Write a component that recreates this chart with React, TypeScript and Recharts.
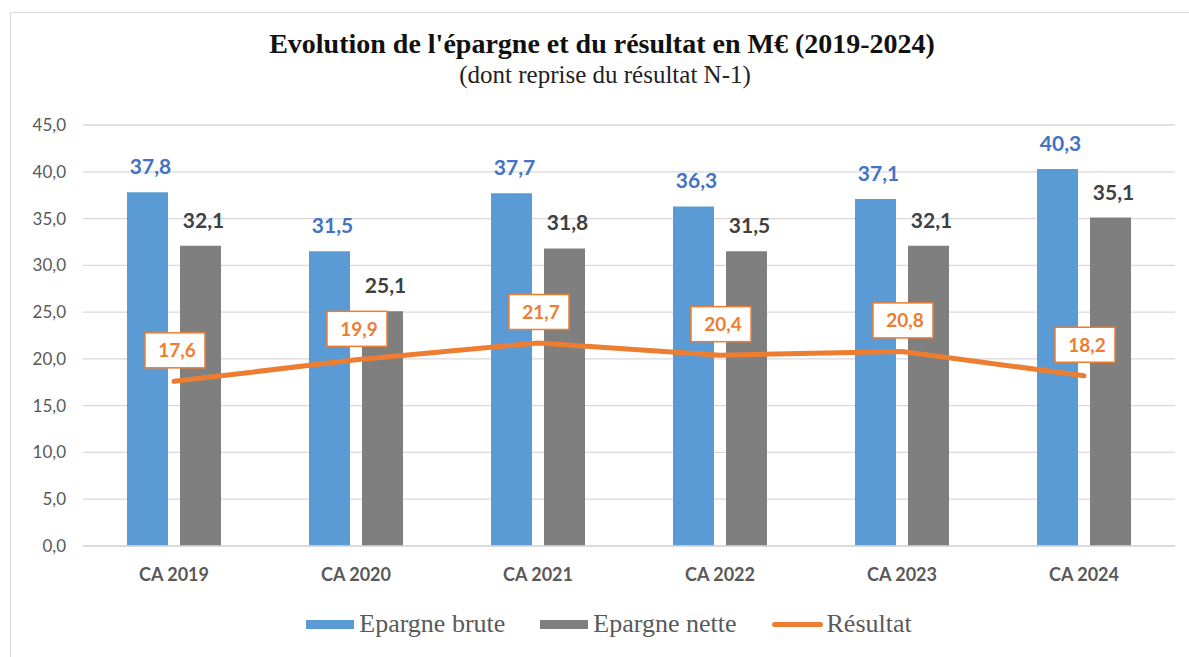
import React from 'react';
import { ComposedChart, Bar, Line, XAxis, YAxis, CartesianGrid, LabelList, Legend } from 'recharts';

const categories = ['CA 2019', 'CA 2020', 'CA 2021', 'CA 2022', 'CA 2023', 'CA 2024'];
const epargneBrute = [37.8, 31.5, 37.7, 36.3, 37.1, 40.3];
const epargneNette = [32.1, 25.1, 31.8, 31.5, 32.1, 35.1];
const resultat = [17.6, 19.9, 21.7, 20.4, 20.8, 18.2];
const yTicks = [0, 5, 10, 15, 20, 25, 30, 35, 40, 45];

const data = categories.map((c, i) => ({
  name: c,
  brute: epargneBrute[i],
  nette: epargneNette[i],
  resultat: resultat[i],
}));

const fmt = (v: number) => Number(v).toFixed(1).replace('.', ',');

const SANS = 'Lato, "Noto Sans", sans-serif';
const SERIF = '"Liberation Serif", "Times New Roman", serif';

const BarLabel = (color: string) => (props: any) => {
  const { x, y, width, value } = props;
  return (
    <text x={x + width / 2 + 3} y={y - 18} textAnchor="middle" fill={color}
      style={{ fontFamily: SANS, fontWeight: 700, fontSize: 21 }}>
      {fmt(value)}
    </text>
  );
};

const LineLabel = (props: any) => {
  const { x, y, value } = props;
  const cx = x + 1;
  const cy = y - 31;
  return (
    <g>
      <rect x={cx - 30} y={cy - 17.5} width={60} height={35} fill="#ffffff" stroke="#ED7D31" strokeWidth={1.5} />
      <text x={cx + 2} y={cy + 7} textAnchor="middle" fill="#ED7D31"
        style={{ fontFamily: SANS, fontWeight: 700, fontSize: 19 }}>
        {fmt(value)}
      </text>
    </g>
  );
};

const LegendContent = () => {
  const items = [
    { label: 'Epargne brute', type: 'rect', color: '#5B9BD5' },
    { label: 'Epargne nette', type: 'rect', color: '#7F7F7F' },
    { label: 'Résultat', type: 'line', color: '#ED7D31' },
  ];
  return (
    <div style={{ display: 'flex', justifyContent: 'center', paddingLeft: 29 }}>
      {items.map((it, i) => (
        <div key={it.label} style={{ display: 'flex', alignItems: 'center', marginRight: i < 2 ? 35 : 0 }}>
          {it.type === 'rect' ? (
            <div style={{ width: 48, height: 9, background: it.color, marginRight: 5 }} />
          ) : (
            <div style={{ width: 51, height: 5, background: it.color, borderRadius: 3, marginRight: 4 }} />
          )}
          <span style={{ fontFamily: SERIF, fontSize: 26, lineHeight: '30px', color: '#595959' }}>{it.label}</span>
        </div>
      ))}
    </div>
  );
};

export default function App() {
  return (
    <div style={{ position: 'absolute', left: 0, top: 0, width: 1189, height: 657, overflow: 'hidden', background: '#fff' }}>
      <div style={{ position: 'absolute', left: 10, top: 12, width: 1300, height: 800, border: '1px solid #d9d9d9' }} />
      <svg style={{ position: 'absolute', left: 0, top: 0 }} width={1189} height={100}>
        <text x={602} y={53} textAnchor="middle" fill="#111"
          style={{ fontFamily: SERIF, fontWeight: 700, fontSize: 28 }}>
          Evolution de l'épargne et du résultat en M€ (2019-2024)
        </text>
        <text x={605} y={83} textAnchor="middle" fill="#222"
          style={{ fontFamily: SERIF, fontSize: 25 }}>
          (dont reprise du résultat N-1)
        </text>
      </svg>
      <div style={{ position: 'absolute', left: 0, top: 0 }}>
        <ComposedChart width={1189} height={657} data={data}
          margin={{ top: 125, right: 14, bottom: 81, left: 0 }} barGap={12}>
          <CartesianGrid vertical={false} stroke="#d9d9d9" strokeWidth={1.3} />
          <XAxis dataKey="name" height={30} tickLine={false} tickSize={0} tickMargin={22}
            axisLine={{ stroke: '#d9d9d9', strokeWidth: 1.3 }}
            tick={{ fill: '#595959', fontFamily: SANS, fontWeight: 700, fontSize: 18 }} />
          <YAxis width={83} domain={[0, 45]} ticks={yTicks} tickFormatter={fmt}
            axisLine={false} tickLine={false} tickSize={0} tickMargin={17}
            tick={{ fill: '#595959', fontFamily: SANS, fontSize: 17 }} />
          <Legend verticalAlign="middle" align="center" layout="horizontal"
            wrapperStyle={{ top: 609, left: 0, width: 1189 }} content={<LegendContent />} />
          <Bar dataKey="brute" name="Epargne brute" fill="#5B9BD5" barSize={41} isAnimationActive={false}>
            <LabelList dataKey="brute" content={BarLabel('#4472C4')} />
          </Bar>
          <Bar dataKey="nette" name="Epargne nette" fill="#7F7F7F" barSize={41} isAnimationActive={false}>
            <LabelList dataKey="nette" content={BarLabel('#404040')} />
          </Bar>
          <Line dataKey="resultat" name="Résultat" stroke="#ED7D31" strokeWidth={5} dot={false}
            strokeLinecap="round" strokeLinejoin="round" isAnimationActive={false}>
            <LabelList dataKey="resultat" content={LineLabel} />
          </Line>
        </ComposedChart>
      </div>
    </div>
  );
}
